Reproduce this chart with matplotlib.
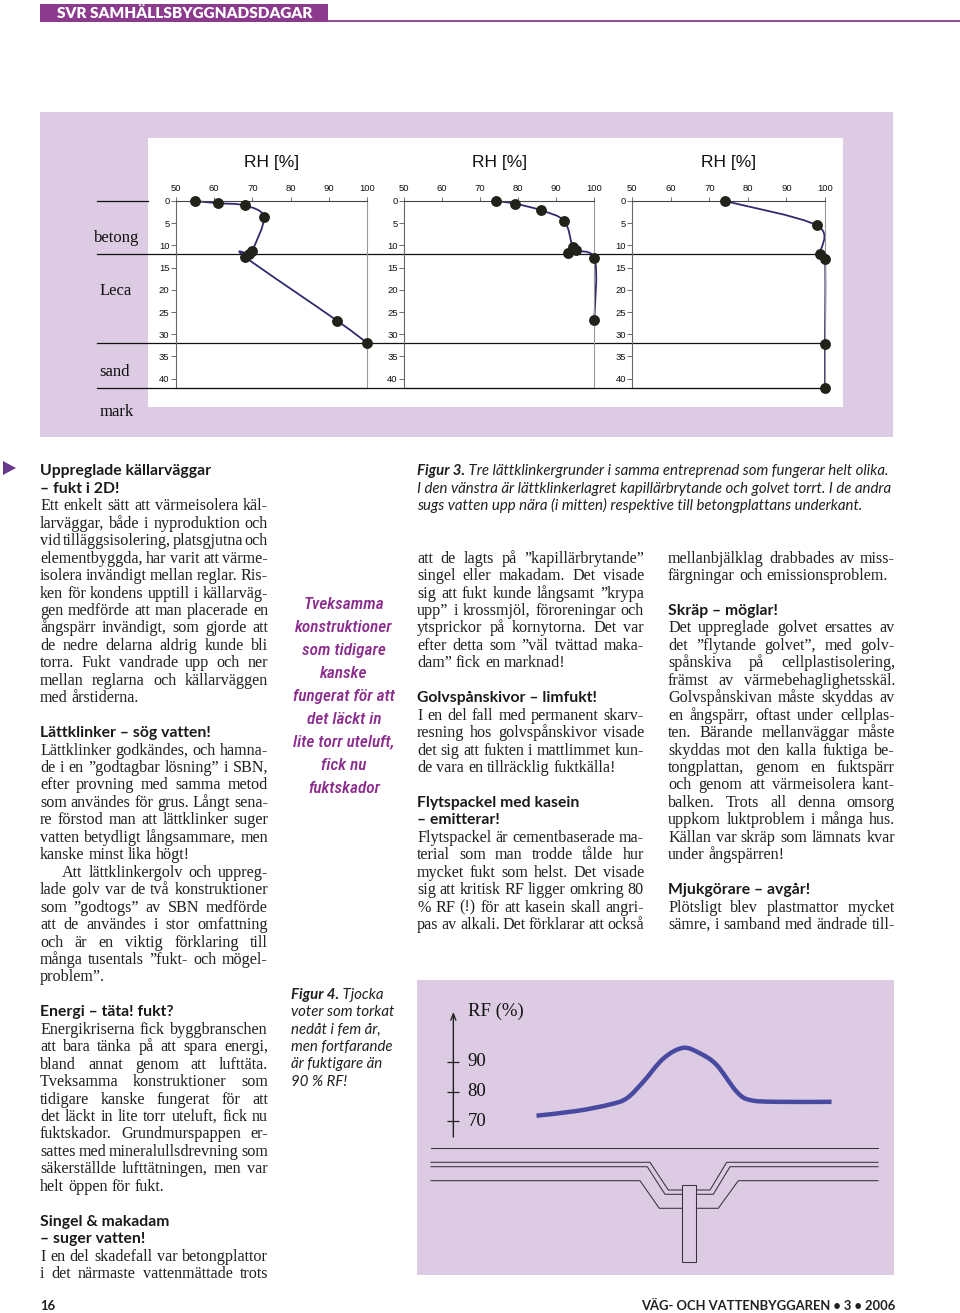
import numpy as np
import matplotlib
matplotlib.use('Agg')
import matplotlib.pyplot as plt
from matplotlib.patches import Rectangle, Polygon, PathPatch
from matplotlib.path import Path
from matplotlib.lines import Line2D
from matplotlib.font_manager import FontProperties
from matplotlib import transforms as mtrans
from matplotlib.transforms import offset_copy

plt.rcParams['font.family'] = ['Liberation Sans', 'DejaVu Sans']

# ---------------- DATA ----------------
rh_ticks = [50, 60, 70, 80, 90, 100]
depth_ticks = [0, 5, 10, 15, 20, 25, 30, 35, 40]
layer_names = ['betong', 'Leca', 'sand', 'mark']
layer_bounds = [0, 12, 32, 42]

# left chart: dry floor
rh_left = [55.0, 61.0, 68.0, 73.0, 70.0, 69.2, 68.1, 92.2, 100.0]
depth_left = [0.0, 0.5, 1.0, 3.6, 11.2, 11.9, 12.6, 27.0, 32.0]
# middle chart
rh_mid = [74.1, 79.2, 86.0, 92.1, 94.3, 95.1, 93.0, 100.0, 100.0]
depth_mid = [0.0, 0.6, 2.1, 4.5, 10.4, 11.0, 11.6, 12.8, 26.9]
# right chart
rh_right = [74.0, 97.9, 98.7, 100.0, 100.0, 100.0]
depth_right = [0.0, 5.5, 12.0, 13.0, 32.2, 42.0]

# Figure 4: RF along the floor (position in m, schematic)
rf_ticks = [70, 80, 90]
floor_pos = [2.36, 3.26, 4.00, 4.38, 4.75, 5.20, 5.64, 6.02, 6.39, 6.84, 7.14, 7.73, 8.96]
rf_values = [71.8, 73.4, 75.6, 77.7, 83.3, 91.2, 94.8, 92.9, 89.0, 79.9, 77.1, 76.5, 76.5]

# ---------------- TEXT ----------------
col1 = [
    ('h', 'Uppreglade källarväggar'),
    ('h', '– fukt i 2D!'),
    ('p', ['Ett enkelt sätt att värmeisolera käl-',
           'larväggar, både i nyproduktion och',
           'vid tilläggsisolering, platsgjutna och',
           'elementbyggda, har varit att värme-',
           'isolera invändigt mellan reglar. Ris-',
           'ken för kondens upptill i källarväg-',
           'gen medförde att man placerade en',
           'ångspärr invändigt, som gjorde att',
           'de nedre delarna aldrig kunde bli',
           'torra. Fukt vandrade upp och ner',
           'mellan reglarna och källarväggen',
           'med årstiderna.'], 0, False),
    ('b',),
    ('h', 'Lättklinker – sög vatten!'),
    ('p', ['Lättklinker godkändes, och hamna-',
           'de i en ”godtagbar lösning” i SBN,',
           'efter provning med samma metod',
           'som användes för grus. Långt sena-',
           're förstod man att lättklinker suger',
           'vatten betydligt långsammare, men',
           'kanske minst lika högt!'], 0, False),
    ('p', ['Att lättklinkergolv och uppreg-',
           'lade golv var de två konstruktioner',
           'som ”godtogs” av SBN medförde',
           'att de användes i stor omfattning',
           'och är en viktig förklaring till',
           'många tusentals ”fukt- och mögel-',
           'problem”.'], 22, False),
    ('b',),
    ('h', 'Energi – täta! fukt?'),
    ('p', ['Energikriserna fick byggbranschen',
           'att bara tänka på att spara energi,',
           'bland annat genom att lufttäta.',
           'Tveksamma konstruktioner som',
           'tidigare kanske fungerat för att',
           'det läckt in lite torr uteluft, fick nu',
           'fuktskador. Grundmurspappen er-',
           'sattes med mineralullsdrevning som',
           'säkerställde lufttätningen, men var',
           'helt öppen för fukt.'], 0, False),
    ('b',),
    ('h', 'Singel & makadam'),
    ('h', '– suger vatten!'),
    ('p', ['I en del skadefall var betongplattor',
           'i det närmaste vattenmättade trots'], 0, True),
]
col2 = [
    ('p', ['att de lagts på ”kapillärbrytande”',
           'singel eller makadam. Det visade',
           'sig att fukt kunde långsamt ”krypa',
           'upp” i krossmjöl, föroreningar och',
           'ytsprickor på kornytorna. Det var',
           'efter detta som ”väl tvättad maka-',
           'dam” fick en marknad!'], 0, False),
    ('b',),
    ('h', 'Golvspånskivor – limfukt!'),
    ('p', ['I en del fall med permanent skarv-',
           'resning hos golvspånskivor visade',
           'det sig att fukten i mattlimmet kun-',
           'de vara en tillräcklig fuktkälla!'], 0, False),
    ('b',),
    ('h', 'Flytspackel med kasein'),
    ('h', '– emitterar!'),
    ('p', ['Flytspackel är cementbaserade ma-',
           'terial som man trodde tålde hur',
           'mycket fukt som helst. Det visade',
           'sig att kritisk RF ligger omkring 80',
           '% RF (!) för att kasein skall angri-',
           'pas av alkali. Det förklarar att också'], 0, True),
]
col3 = [
    ('p', ['mellanbjälklag drabbades av miss-',
           'färgningar och emissionsproblem.'], 0, False),
    ('b',),
    ('h', 'Skräp – möglar!'),
    ('p', ['Det uppreglade golvet ersattes av',
           'det ”flytande golvet”, med golv-',
           'spånskiva på cellplastisolering,',
           'främst av värmebehaglighetsskäl.',
           'Golvspånskivan måste skyddas av',
           'en ångspärr, oftast under cellplas-',
           'ten. Bärande mellanväggar måste',
           'skyddas mot den kalla fuktiga be-',
           'tongplattan, genom en fuktspärr',
           'och genom att värmeisolera kant-',
           'balken. Trots all denna omsorg',
           'uppkom luktproblem i många hus.',
           'Källan var skräp som lämnats kvar',
           'under ångspärren!'], 0, False),
    ('b',),
    ('h', 'Mjukgörare – avgår!'),
    ('p', ['Plötsligt blev plastmattor mycket',
           'sämre, i samband med ändrade till-'], 0, True),
]
cap3 = [('Figur 3.', ' Tre lättklinkergrunder i samma entreprenad som fungerar helt olika.'),
        ('', 'I den vänstra är lättklinkerlagret kapillärbrytande och golvet torrt. I de andra'),
        ('', 'sugs vatten upp nära (i mitten) respektive till betongplattans underkant.')]
cap4 = [('Figur 4.', ' Tjocka'), ('', 'voter som torkat'), ('', 'nedåt i fem år,'),
        ('', 'men fortfarande'), ('', 'är fuktigare än'), ('', '90 % RF!')]
quote = ['Tveksamma', 'konstruktioner', 'som tidigare', 'kanske', 'fungerat för att',
         'det läckt in', 'lite torr uteluft,', 'fick nu', 'fuktskador']

# ---------------- FIGURE ----------------
W, H = 960, 1313
fig = plt.figure(figsize=(9.6, 13.13), dpi=100)
fig.patch.set_facecolor('white')
renderer = fig.canvas.get_renderer()

PANEL = '#dccbe2'
PURPLE = '#8c3a8e'
TXT = '#231f20'


def fx(x):
    return x / W


def fy(y):
    return 1 - y / H


def add_axes_px(l, t, r, b):
    return fig.add_axes([fx(l), fy(b), (r - l) / W, (b - t) / H])


def rect_px(l, t, r, b, **kw):
    fig.add_artist(Rectangle((fx(l), fy(b)), (r - l) / W, (b - t) / H,
                             transform=fig.transFigure, **kw))


def tw(s, fp):
    w, h, d = renderer.get_text_width_height_descent(s, fp, ismath=False)
    return w


def fit_size(fp_kwargs, s, target, ref=10.0):
    fp = FontProperties(size=ref, **fp_kwargs)
    return ref * target / tw(s, fp)


def smooth_path(xs, ys, sx, sy, t=1.0 / 6):
    P = np.column_stack([np.asarray(xs, float) * sx, np.asarray(ys, float) * sy])
    n = len(P)
    verts = [P[0]]
    codes = [Path.MOVETO]
    for i in range(n - 1):
        p0 = P[max(i - 1, 0)]
        p1 = P[i]
        p2 = P[i + 1]
        p3 = P[min(i + 2, n - 1)]
        c1 = p1 + (p2 - p0) * t
        c2 = p2 - (p3 - p1) * t
        verts += [c1, c2, p2]
        codes += [Path.CURVE4] * 3
    V = np.array(verts) / np.array([sx, sy])
    return Path(V, codes)


# header
rect_px(40, 4, 328, 22, fc=PURPLE, ec='none', zorder=1)
fig.add_artist(Line2D([fx(328), fx(960)], [fy(21), fy(21)], transform=fig.transFigure,
                      color=PURPLE, lw=1.3))
hk = dict(family='Lato', weight='heavy')
hs = fit_size(hk, 'SVR SAMHÄLLSBYGGNADSDAGAR', 255)
fig.text(fx(57), fy(17.5), 'SVR SAMHÄLLSBYGGNADSDAGAR', color='white',
         fontproperties=FontProperties(size=hs, **hk), ha='left', va='baseline')

# footer
fk = dict(family='Lato', weight='bold')
fs = fit_size(fk, 'VÄG- OCH VATTENBYGGAREN • 3 • 2006', 255)
fig.text(fx(895), fy(1310), 'VÄG- OCH VATTENBYGGAREN • 3 • 2006', color=TXT,
         fontproperties=FontProperties(size=fs, **fk), ha='right', va='baseline')
fig.text(fx(40), fy(1310), '16', color=TXT, fontproperties=FontProperties(size=fs, **fk),
         ha='left', va='baseline')

# triangle marker
fig.add_artist(Polygon([(fx(3), fy(461)), (fx(16), fy(468)), (fx(3), fy(475))],
                       closed=True, transform=fig.transFigure, fc='#6a3a8c', ec='none'))

# ---------------- FIGURE 3 CHARTS ----------------
rect_px(40, 112, 893, 437, fc=PANEL, ec='none', zorder=-5)
rect_px(148, 138, 843, 407, fc='white', ec='none', zorder=-4)

chart_x = [(175.7, 367.3), (404.0, 594.3), (632.3, 825.0)]
top_px, bot_px = 201.0, 387.5
series = [(rh_left, depth_left), (rh_mid, depth_mid), (rh_right, depth_right)]
axes = []
for (l, r), (rh, dep) in zip(chart_x, series):
    ax = add_axes_px(l, top_px, r, bot_px)
    ax.set_facecolor('none')
    ax.set_zorder(3)
    ax.set_xlim(50, 100)
    ax.set_ylim(42, 0)
    ax.xaxis.tick_top()
    ax.set_xticks(rh_ticks)
    ax.set_yticks(depth_ticks)
    ax.tick_params(axis='x', direction='out', length=3, width=0.6, pad=2.5,
                   labelsize=6.8, color='#555', labelcolor='#111')
    ax.tick_params(axis='y', direction='out', length=3.5, width=0.6, pad=1.0,
                   labelsize=6.8, color='#555', labelcolor='#111')
    ax.spines['top'].set_color('#444')
    ax.spines['left'].set_color('#666')
    ax.spines['right'].set_color('#999')
    ax.spines['bottom'].set_color('#111')
    for s in ax.spines.values():
        s.set_linewidth(0.8)
    sx = (r - l) / 50.0
    sy = (bot_px - top_px) / 42.0
    ax.add_patch(PathPatch(smooth_path(rh, dep, sx, sy), fill=False, ec='#2f2c6e',
                           lw=1.3, zorder=2, clip_on=False))
    ax.plot(rh, dep, 'o', ms=6.8, color='#22221b', mec='#22221b', zorder=4, clip_on=False)
    ax.text(0.5, 1 + (top_px - 163) / (bot_px - top_px), 'RH [%]', transform=ax.transAxes,
            ha='center', va='center', fontsize=12.5, family='Liberation Sans', color='#111')
    axes.append(ax)

blend = mtrans.blended_transform_factory(fig.transFigure, axes[0].transData)
for b in layer_bounds:
    x1 = 148 if b == 0 else 826
    fig.add_artist(Line2D([fx(97), fx(x1)], [b, b], transform=blend, color='#111',
                          lw=0.9, zorder=2))

label_pos = [(117, 238), (116, 291), (115, 372), (117, 412)]
for name, (x, y) in zip(layer_names, label_pos):
    fig.text(fx(x), fy(y), name, family='Liberation Serif', fontsize=12, ha='center',
             va='center', color='#111')

# ---------------- FIGURE 4 ----------------
rect_px(417, 980, 894, 1275, fc=PANEL, ec='none', zorder=-5)
ax4 = add_axes_px(431, 1012, 878, 1137)
ax4.set_facecolor('none')
ax4.set_xlim(0, 10)
ppu = (1121 - 1062) / 20.0
ylo = 70 - (1137 - 1121) / ppu
yhi = 90 + (1062 - 1012) / ppu
ax4.set_ylim(ylo, yhi)
for s in ax4.spines.values():
    s.set_visible(False)
ax4.spines['left'].set_position(('data', 0.5))
ax4.set_xticks([])
ax4.set_yticks(rf_ticks)
ax4.tick_params(axis='y', direction='inout', length=8, width=0.9, color='#222',
                labelleft=False)
ax4.annotate('', xy=(0.5, yhi), xytext=(0.5, ylo),
             arrowprops=dict(arrowstyle='->,head_length=0.45,head_width=0.18', color='#222',
                             lw=1.0, shrinkA=0, shrinkB=0), annotation_clip=False)
for v in rf_ticks:
    ax4.text(0.5, v, str(v), transform=offset_copy(ax4.transData, fig=fig, x=14, y=0, units='dots'),
             ha='left', va='center', family='Liberation Serif', fontsize=13.5, color='#111')
ax4.text(0.5, yhi, 'RF (%)', transform=offset_copy(ax4.transData, fig=fig, x=15, y=1, units='dots'),
         ha='left', va='center', family='Liberation Serif', fontsize=13.5, color='#111')
ax4.add_patch(PathPatch(smooth_path(floor_pos, rf_values, 44.7, ppu), fill=False,
                        ec='#4849a0', lw=3.2, capstyle='butt', clip_on=False))

# schematic floor / foundation (decorative drawing)
ax5 = add_axes_px(417, 1140, 894, 1275)
ax5.set_xlim(417, 894)
ax5.set_ylim(1275, 1140)
ax5.axis('off')
ax5.patch.set_visible(False)
LC = '#3a3040'
schem = [
    [(431, 1148.3), (878, 1148.3)],
    [(431, 1162.3), (650, 1162.3), (668.3, 1190), (710, 1190), (726.7, 1162.3), (878, 1162.3)],
    [(431, 1166.7), (647.3, 1166.7), (665, 1194.3), (713.3, 1194.3), (730, 1166.7), (878, 1166.7)],
    [(431, 1180.7), (640, 1180.7), (659.3, 1208.3), (718.3, 1208.3), (738.3, 1180.7), (878, 1180.7)],
]
for pl in schem:
    xs, ys = zip(*pl)
    ax5.plot(xs, ys, color=LC, lw=0.75, zorder=1)
ax5.add_patch(Rectangle((681.7, 1185), 14, 76.7, fc=PANEL, ec=LC, lw=0.75, zorder=2))

# ---------------- TEXT COLUMNS ----------------
serif = dict(family='Liberation Serif')
head = dict(family='Lato', weight='bold')
ital = dict(family='Lato', style='italic')
boldital = dict(family='Lato', style='italic', weight='bold')

GRID0, GRIDH = 471.0, 17.45
cols = [(col1, 40, 228, 0), (col2, 417, 227, 5), (col3, 668, 227, 5)]

# fit body size
ref = 10.0
fpr = FontProperties(size=ref, **serif)
sp_ref = tw('x x', fpr) - tw('xx', fpr)
ratios = []
for col, x0, w, k0 in cols:
    for item in col:
        if item[0] == 'p':
            lines, ind, lastj = item[1], item[2], item[3]
            for i, ln in enumerate(lines):
                if i == len(lines) - 1 and not lastj:
                    continue
                words = ln.split(' ')
                nat = sum(tw(wd, fpr) for wd in words) + (len(words) - 1) * sp_ref * 0.45
                avail = w - (ind if i == 0 else 0)
                ratios.append(avail / nat)
body_size = min(11.7, ref * min(ratios))
fpb = FontProperties(size=body_size, **serif)
sp_b = tw('x x', fpb) - tw('xx', fpb)
head_size = fit_size(head, 'Uppreglade källarväggar', 170)
fph = FontProperties(size=head_size, **head)


def base(yc, size):
    return yc + 0.27 * size * 100 / 72


def draw_line(ln, x0, yc, width, justify):
    words = ln.split(' ')
    ws = [tw(wd, fpb) for wd in words]
    if justify and len(words) > 1:
        gap = (width - sum(ws)) / (len(words) - 1)
    else:
        gap = sp_b
    x = x0
    for wd, ww in zip(words, ws):
        fig.text(fx(x), fy(base(yc, body_size)), wd, fontproperties=fpb, ha='left',
                 va='baseline', color=TXT)
        x += ww + gap


for col, x0, w, k0 in cols:
    k = k0
    for item in col:
        yc = GRID0 + GRIDH * k
        if item[0] == 'b':
            k += 1
        elif item[0] == 'h':
            fig.text(fx(x0), fy(base(yc, head_size)), item[1], fontproperties=fph,
                     ha='left', va='baseline', color='#1a1a1a')
            k += 1
        else:
            lines, ind, lastj = item[1], item[2], item[3]
            for i, ln in enumerate(lines):
                yc = GRID0 + GRIDH * k
                xi = x0 + (ind if i == 0 else 0)
                just = (i < len(lines) - 1) or lastj
                draw_line(ln, xi, yc, w - (xi - x0), just)
                k += 1

# captions
cap_size = fit_size(ital, cap3[1][1], 476)
fpi = FontProperties(size=cap_size, **ital)
fpbi = FontProperties(size=cap_size, **boldital)


def draw_caption(lines, x0, k0):
    for i, (b, rest) in enumerate(lines):
        yc = GRID0 + GRIDH * (k0 + i)
        yb = fy(base(yc, cap_size))
        x = x0
        if b:
            fig.text(fx(x), yb, b, fontproperties=fpbi, ha='left', va='baseline', color=TXT)
            x += tw(b, fpbi)
        fig.text(fx(x), yb, rest, fontproperties=fpi, ha='left', va='baseline', color=TXT)


draw_caption(cap3, 417, 0)
draw_caption(cap4, 291, 30)

# pull quote
qk = dict(family=['Roboto Condensed', 'Roboto'], style='italic', weight='medium')
q_size = fit_size(qk, 'konstruktioner', 97)
fpq = FontProperties(size=q_size, **qk)
for i, ln in enumerate(quote):
    yc = 604 + 23 * i
    fig.text(fx(344), fy(base(yc, q_size)), ln, fontproperties=fpq, ha='center',
             va='baseline', color='#8a2b8d')

fig.savefig('out.png', dpi=100, facecolor='white')
